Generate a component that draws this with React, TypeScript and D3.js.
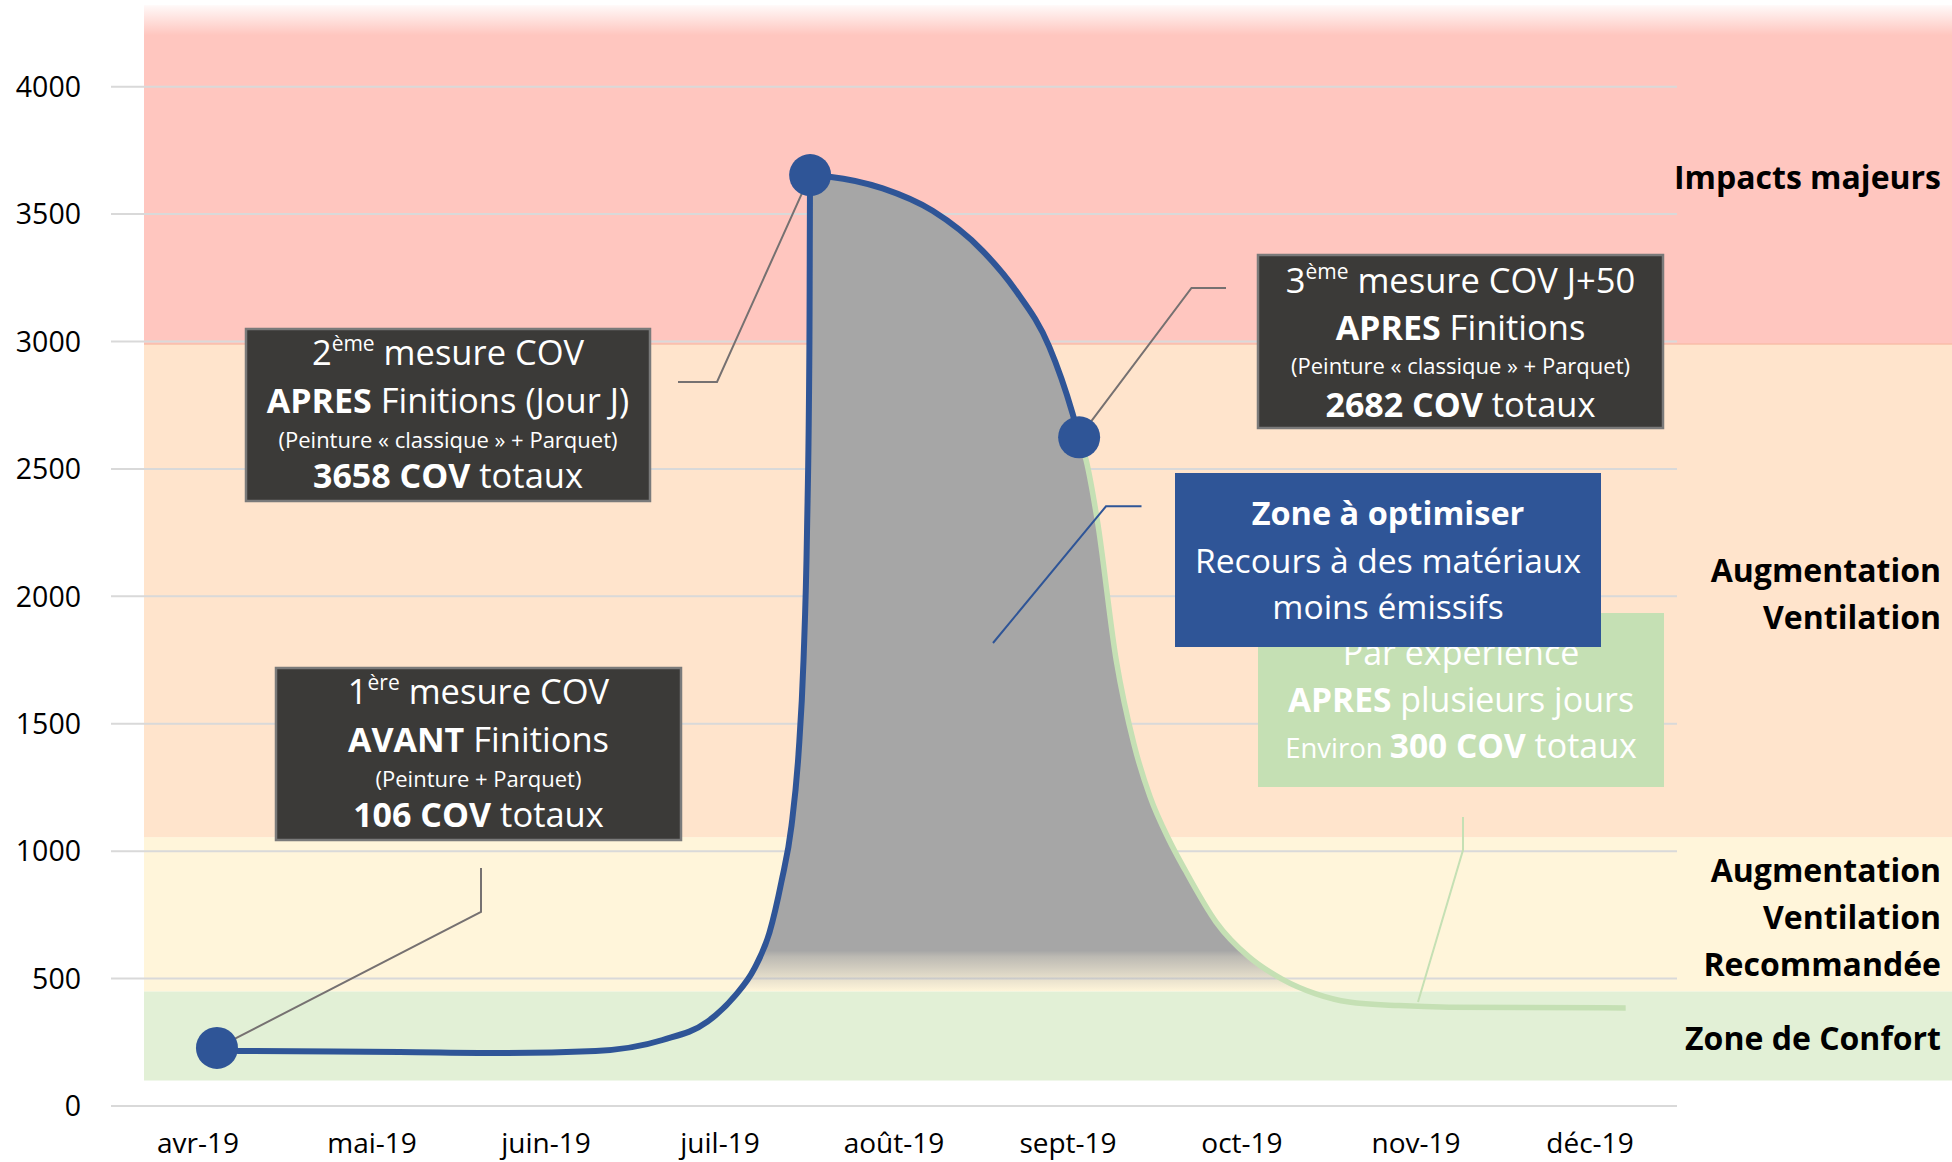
import React from 'react';
import * as d3 from 'd3';

// ---------- data ----------
const months = ['avr-19', 'mai-19', 'juin-19', 'juil-19', 'août-19', 'sept-19', 'oct-19', 'nov-19', 'déc-19'];
const yTicks = [0, 500, 1000, 1500, 2000, 2500, 3000, 3500, 4000];

// zone limits (COV): confort / recommandée / ventilation / impacts majeurs
const zoneLimits = [100, 450, 1055, 2990, 4320];
const zoneLabels = [
  ['Zone de Confort'],
  ['Augmentation', 'Ventilation', 'Recommandée'],
  ['Augmentation', 'Ventilation'],
  ['Impacts majeurs'],
];

// curve: position in months since avr-19, total COV
const curveMonth = [0.109, 0.235, 1.16, 1.774, 2.285, 2.67, 2.928, 3.083, 3.198, 3.284, 3.353, 3.411, 3.451, 3.48, 3.5, 3.514, 3.518,
  3.629, 3.935, 4.222, 4.509, 4.701, 4.892, 5.026, 5.064,
  5.104, 5.168, 5.277, 5.38, 5.472, 5.581, 5.673, 5.851, 6.04, 6.23, 6.425, 6.615, 6.902, 7.189, 8.205];
const curveCOV = [228, 216, 212, 208, 216, 259, 331, 430, 540, 680, 880, 1100, 1380, 1750, 2250, 3000, 3653,
  3647, 3601, 3513, 3356, 3199, 2980, 2718, 2624,
  2535, 2300, 1750, 1417, 1213, 1044, 926, 722, 585, 498, 440, 408, 394, 388, 385];
// indices of the three measurements
const measureIdx = [0, 16, 24];

type Seg = { t: string; b?: boolean; sup?: boolean; small?: boolean; mid?: boolean };
const box1Lines: Seg[][] = [
  [{ t: '1' }, { t: 'ère', sup: true }, { t: ' mesure COV' }],
  [{ t: 'AVANT', b: true }, { t: ' Finitions' }],
  [{ t: '(Peinture + Parquet)', small: true }],
  [{ t: '106 COV', b: true }, { t: ' totaux' }],
];
const box2Lines: Seg[][] = [
  [{ t: '2' }, { t: 'ème', sup: true }, { t: ' mesure COV' }],
  [{ t: 'APRES', b: true }, { t: ' Finitions (Jour J)' }],
  [{ t: '(Peinture « classique » + Parquet)', small: true }],
  [{ t: '3658 COV', b: true }, { t: ' totaux' }],
];
const box3Lines: Seg[][] = [
  [{ t: '3' }, { t: 'ème', sup: true }, { t: ' mesure COV J+50' }],
  [{ t: 'APRES', b: true }, { t: ' Finitions' }],
  [{ t: '(Peinture « classique » + Parquet)', small: true }],
  [{ t: '2682 COV', b: true }, { t: ' totaux' }],
];
const optimLines: Seg[][] = [
  [{ t: 'Zone à optimiser', b: true }],
  [{ t: 'Recours à des matériaux' }],
  [{ t: 'moins émissifs' }],
];
const experLines: Seg[][] = [
  [{ t: 'Par expérience' }],
  [{ t: 'APRES', b: true }, { t: ' plusieurs jours' }],
  [{ t: 'Environ ', mid: true }, { t: '300 COV', b: true }, { t: ' totaux' }],
];

// ---------- styles ----------
const FONT = "'Open Sans', 'Noto Sans', sans-serif";
const BLUE = '#2F5597';
const LGREEN = '#C5E0B4';
const DARK = '#3B3A38';
const zoneColors = ['#E2F0D6', '#FFF5DA', '#FFE4CC', '#FFC6BF'];

function TextLines({ lines, cx, top, offsets, big = 34.5, bold = 34, small = 22, mid = 27.5, fill = '#fff' }:
  { lines: Seg[][]; cx: number; top: number; offsets: number[]; big?: number; bold?: number; small?: number; mid?: number; fill?: string }) {
  return (
    <>
      {lines.map((line, i) => (
        <text key={i} x={cx} y={top + offsets[i]} textAnchor="middle" fill={fill} fontFamily={FONT} fontSize={big}>
          {line.map((s, j) => {
            if (s.sup) {
              return <tspan key={j} fontSize={21} dy={-14}>{s.t}</tspan>;
            }
            const prevSup = j > 0 && line[j - 1].sup;
            return (
              <tspan key={j} dy={prevSup ? 14 : 0} fontWeight={s.b ? 700 : 400}
                fontSize={s.small ? small : s.mid ? mid : s.b ? bold : big}>{s.t}</tspan>
            );
          })}
        </text>
      ))}
    </>
  );
}

export default function App() {
  const W = 1952, H = 1162;
  const x = d3.scaleBand<string>().domain(months).range([111, 1677]);
  const bw = x.bandwidth();
  const xm = d3.scaleLinear().domain([0, months.length - 1])
    .range([(x(months[0]) as number) + bw / 2, (x(months[months.length - 1]) as number) + bw / 2]);
  const y = d3.scaleLinear().domain([0, 4000]).range([1106, 86.7]);

  const pts: [number, number][] = curveMonth.map((m, i) => [xm(m), y(curveCOV[i])]);
  const curve = d3.curveMonotoneX;
  const linePath = d3.line().curve(curve)(pts) as string;
  const areaPath = d3.area<[number, number]>().x(d => d[0]).y0(y(0)).y1(d => d[1]).curve(curve)(pts) as string;
  const splitX = pts[measureIdx[2]][0];
  const mk = measureIdx.map(i => pts[i]);

  const bandLeft = 144;
  const offs4 = [36, 83.5, 118.5, 158.5];

  return (
    <div style={{ position: 'absolute', left: 0, top: 0 }}>
      <svg width={W} height={H} viewBox={`0 0 ${W} ${H}`} style={{ display: 'block', background: '#fff' }}>
        <defs>
          <linearGradient id="topFade" gradientUnits="userSpaceOnUse" x1="0" y1={y(zoneLimits[4])} x2="0" y2={y(zoneLimits[4]) + 30}>
            <stop offset="0" stopColor={zoneColors[3]} stopOpacity={0.1} />
            <stop offset="1" stopColor={zoneColors[3]} stopOpacity={1} />
          </linearGradient>
          <linearGradient id="grayFade" gradientUnits="userSpaceOnUse" x1="0" y1={y(610)} x2="0" y2={y(450)}>
            <stop offset="0" stopColor="#A6A6A6" stopOpacity={1} />
            <stop offset="0.15" stopColor="#A6A6A6" stopOpacity={0.75} />
            <stop offset="1" stopColor="#A6A6A6" stopOpacity={0} />
          </linearGradient>
          <clipPath id="leftPart"><rect x={0} y={0} width={splitX} height={H} /></clipPath>
          <clipPath id="rightPart"><rect x={splitX} y={0} width={W - splitX} height={H} /></clipPath>
        </defs>

        {/* zones */}
        {zoneColors.map((c, i) => {
          const top = y(zoneLimits[i + 1]);
          const bot = y(zoneLimits[i]);
          return (
            <rect key={i} x={bandLeft} y={top} width={W - bandLeft} height={bot - top}
              fill={i === 3 ? 'url(#topFade)' : c} />
          );
        })}
        <line x1={bandLeft} x2={W} y1={y(zoneLimits[3])} y2={y(zoneLimits[3])} stroke="#F6B49A" strokeWidth={1} />

        {/* gridlines */}
        {yTicks.map(t => (
          <line key={t} x1={111} x2={1677} y1={y(t)} y2={y(t)} stroke="#D9D9D9" strokeWidth={2} />
        ))}

        {/* y labels */}
        {yTicks.map(t => (
          <text key={t} x={81} y={y(t)} dy="0.36em" textAnchor="end" fontFamily={FONT} fontSize={28.5} fill="#000">{t}</text>
        ))}
        {/* x labels */}
        {months.map(m => (
          <text key={m} x={(x(m) as number) + bw / 2} y={1153} textAnchor="middle" fontFamily={FONT} fontSize={28} fill="#000">{m}</text>
        ))}

        {/* zone labels */}
        {zoneLabels.map((lines, i) => {
          const c = (y(zoneLimits[i]) + y(zoneLimits[i + 1])) / 2 + 14.5;
          return lines.map((l, k) => (
            <text key={i + '-' + k} x={1941} y={c + (k - (lines.length - 1) / 2) * 47} textAnchor="end"
              fontFamily={FONT} fontWeight={700} fontSize={32} fill="#000">{l}</text>
          ));
        })}

        {/* gray area */}
        <path d={areaPath} fill="url(#grayFade)" />

        {/* connectors */}
        <polyline points={`${mk[0][0]},${mk[0][1]} 481,912 481,868`} fill="none" stroke="#767171" strokeWidth={2} />
        <polyline points={`${mk[1][0]},${mk[1][1]} 717,382 678,382`} fill="none" stroke="#767171" strokeWidth={2} />
        <polyline points={`${mk[2][0]},${mk[2][1]} 1191.5,288 1226,288`} fill="none" stroke="#767171" strokeWidth={2} />

        {/* curve */}
        <path d={linePath} fill="none" stroke={LGREEN} strokeWidth={5.5} clipPath="url(#rightPart)" />
        <path d={linePath} fill="none" stroke={BLUE} strokeWidth={6} clipPath="url(#leftPart)" />

        <polyline points="993,643 1106,506.3 1141.5,506.3" fill="none" stroke={BLUE} strokeWidth={2} />
        <polyline points="1418,1002 1463,850 1463,817" fill="none" stroke={LGREEN} strokeWidth={2} />

        {mk.map((p, i) => <circle key={i} cx={p[0]} cy={p[1]} r={21} fill={BLUE} />)}

        {/* dark boxes */}
        <rect x={276} y={668} width={405} height={172} fill={DARK} stroke="#7A7A7A" strokeWidth={2.5} />
        <TextLines lines={box1Lines} cx={478.5} top={668} offsets={offs4} />
        <rect x={246} y={329} width={404} height={172} fill={DARK} stroke="#7A7A7A" strokeWidth={2.5} />
        <TextLines lines={box2Lines} cx={448} top={329} offsets={offs4} />
        <rect x={1258} y={255} width={405} height={173} fill={DARK} stroke="#7A7A7A" strokeWidth={2.5} />
        <TextLines lines={box3Lines} cx={1460.5} top={255} offsets={[37.5, 85, 118.5, 161.5]} />

        {/* experience box */}
        <rect x={1258} y={613} width={406} height={174} fill={LGREEN} />
        <TextLines lines={experLines} cx={1461} top={613} offsets={[52, 98.7, 145.3]} big={34} bold={33.5} mid={27.5} />
        {/* optimisation box */}
        <rect x={1175} y={473} width={426} height={174} fill={BLUE} />
        <TextLines lines={optimLines} cx={1388} top={473} offsets={[52, 100.3, 146.3]} big={33.6} bold={32.5} />
      </svg>
    </div>
  );
}
